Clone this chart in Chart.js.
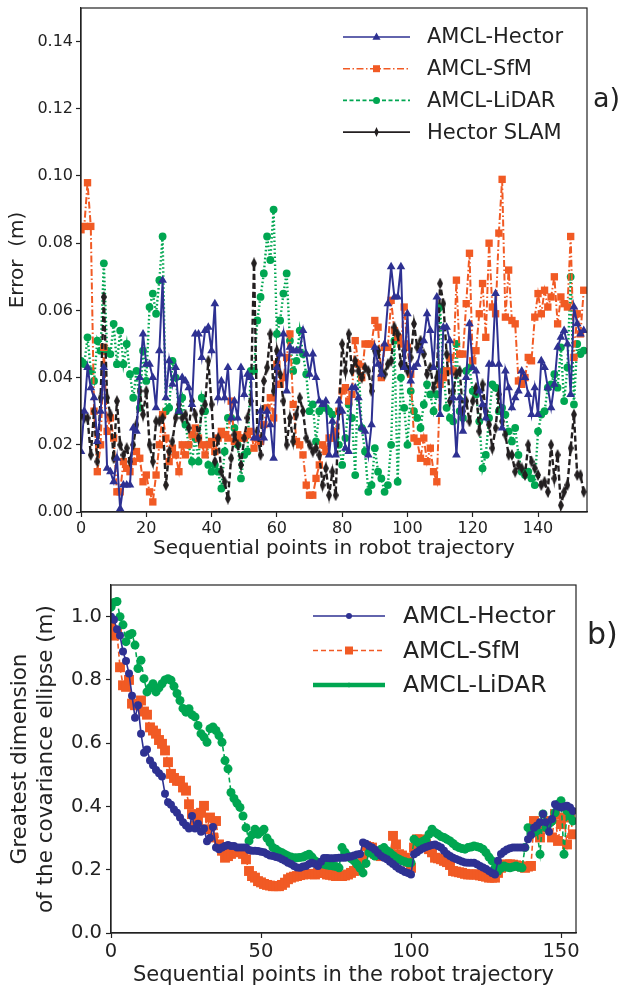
<!DOCTYPE html>
<html>
<head>
<meta charset="utf-8">
<title>Localization error and covariance</title>
<script src="https://cdn.jsdelivr.net/npm/chart.js@4.4.0/dist/chart.umd.min.js"></script>
<style>
  html, body { margin: 0; padding: 0; background: #fff; }
  #wrap { position: relative; width: 622px; height: 994px; }
  #errChart { position: absolute; left: 0; top: 0; }
  #covChart { position: absolute; left: 0; top: 570px; }
</style>
</head>
<body>
<div id="wrap">
  <canvas id="errChart" width="622" height="570"></canvas>
  <canvas id="covChart" width="622" height="424"></canvas>
</div>
<script>
// ---- a) error per sequential point (m) ----
const errHector = [
  0.018, 0.030, 0.043, 0.037, 0.034, 0.021, 0.030, 0.043, 0.013, 0.012,
  0.009, 0.016, 0.001, 0.008, 0.008, 0.008, 0.025, 0.024, 0.040, 0.053,
  0.044, 0.044, 0.040, 0.031, 0.048, 0.069, 0.034, 0.045, 0.038, 0.043,
  0.030, 0.040, 0.039, 0.037, 0.032, 0.053, 0.053, 0.046, 0.054, 0.055,
  0.048, 0.062, 0.034, 0.039, 0.034, 0.043, 0.028, 0.033, 0.028, 0.043,
  0.035, 0.041, 0.040, 0.022, 0.022, 0.030, 0.022, 0.030, 0.026, 0.016,
  0.043, 0.047, 0.053, 0.036, 0.049, 0.048, 0.048, 0.048, 0.054, 0.047,
  0.041, 0.047, 0.040, 0.033, 0.032, 0.033, 0.017, 0.027, 0.017, 0.033,
  0.030, 0.019, 0.018, 0.037, 0.037, 0.034, 0.025, 0.024, 0.017, 0.026,
  0.049, 0.044, 0.041, 0.050, 0.062, 0.073, 0.064, 0.064, 0.073, 0.043,
  0.059, 0.039, 0.043, 0.044, 0.048, 0.051, 0.059, 0.054, 0.043, 0.064,
  0.029, 0.055, 0.055, 0.051, 0.034, 0.017, 0.034, 0.024, 0.040, 0.056,
  0.043, 0.042, 0.036, 0.032, 0.028, 0.044, 0.044, 0.065, 0.044, 0.025,
  0.042, 0.037, 0.031, 0.034, 0.036, 0.042, 0.040, 0.035, 0.029, 0.037,
  0.029, 0.045, 0.043, 0.037, 0.031, 0.038, 0.049, 0.052, 0.054, 0.050,
  0.035, 0.061, 0.056, 0.053, 0.054
];
const errSfm = [
  0.084, 0.085, 0.098, 0.085, 0.030, 0.012, 0.020, 0.049, 0.024, 0.028,
  0.022, 0.006, 0.006, 0.015, 0.013, 0.012, 0.015, 0.018, 0.016, 0.009,
  0.011, 0.006, 0.003, 0.011, 0.020, 0.029, 0.022, 0.015, 0.019, 0.017,
  0.012, 0.020, 0.017, 0.020, 0.023, 0.025, 0.022, 0.020, 0.017, 0.020,
  0.021, 0.018, 0.022, 0.024, 0.023, 0.022, 0.033, 0.021, 0.023, 0.022,
  0.022, 0.023, 0.024, 0.019, 0.022, 0.021, 0.026, 0.031, 0.034, 0.028,
  0.044, 0.038, 0.040, 0.046, 0.053, 0.032, 0.021, 0.020, 0.017, 0.008,
  0.005, 0.005, 0.010, 0.014, 0.020, 0.018, 0.022, 0.022, 0.024, 0.030,
  0.036, 0.037, 0.033, 0.035, 0.051, 0.044, 0.040, 0.050, 0.050, 0.050,
  0.057, 0.055, 0.040, 0.049, 0.049, 0.063, 0.054, 0.052, 0.050, 0.061,
  0.049, 0.041, 0.022, 0.021, 0.016, 0.022, 0.015, 0.019, 0.012, 0.009,
  0.038, 0.040, 0.042, 0.046, 0.042, 0.069, 0.047, 0.047, 0.062, 0.077,
  0.045, 0.048, 0.059, 0.068, 0.052, 0.080, 0.061, 0.059, 0.083, 0.099,
  0.058, 0.072, 0.057, 0.056, 0.039, 0.038, 0.040, 0.046, 0.045, 0.058,
  0.065, 0.059, 0.066, 0.061, 0.064, 0.070, 0.056, 0.064, 0.062, 0.061,
  0.082, 0.046, 0.059, 0.053, 0.066
];
const errLidar = [
  0.045, 0.044, 0.052, 0.042, 0.039, 0.051, 0.048, 0.074, 0.048, 0.047,
  0.056, 0.044, 0.054, 0.044, 0.050, 0.041, 0.034, 0.042, 0.031, 0.048,
  0.039, 0.061, 0.065, 0.059, 0.069, 0.082, 0.030, 0.031, 0.045, 0.040,
  0.030, 0.034, 0.026, 0.020, 0.015, 0.022, 0.015, 0.034, 0.030, 0.014,
  0.012, 0.014, 0.012, 0.007, 0.018, 0.028, 0.028, 0.025, 0.020, 0.010,
  0.017, 0.018, 0.042, 0.042, 0.057, 0.064, 0.071, 0.082, 0.075, 0.090,
  0.053, 0.057, 0.065, 0.071, 0.051, 0.042, 0.045, 0.054, 0.047, 0.041,
  0.030, 0.032, 0.021, 0.030, 0.031, 0.031, 0.030, 0.029, 0.022, 0.020,
  0.014, 0.022, 0.032, 0.028, 0.011, 0.044, 0.025, 0.018, 0.006, 0.008,
  0.019, 0.012, 0.010, 0.006, 0.008, 0.020, 0.051, 0.009, 0.040, 0.031,
  0.020, 0.036, 0.030, 0.028, 0.025, 0.032, 0.038, 0.035, 0.030, 0.035,
  0.061, 0.042, 0.031, 0.028, 0.027, 0.050, 0.030, 0.028, 0.042, 0.043,
  0.036, 0.035, 0.027, 0.013, 0.017, 0.028, 0.038, 0.037, 0.030, 0.031,
  0.029, 0.024, 0.021, 0.025, 0.017, 0.012, 0.011, 0.012, 0.010, 0.008,
  0.024, 0.029, 0.030, 0.037, 0.038, 0.041, 0.037, 0.049, 0.033, 0.043,
  0.070, 0.032, 0.050, 0.047, 0.048
];
const errSlam = [
  0.029, 0.028, 0.028, 0.017, 0.030, 0.015, 0.034, 0.064, 0.034, 0.029,
  0.016, 0.033, 0.020, 0.017, 0.019, 0.015, 0.020, 0.026, 0.036, 0.029,
  0.036, 0.020, 0.015, 0.027, 0.027, 0.028, 0.008, 0.018, 0.021, 0.028,
  0.032, 0.028, 0.029, 0.025, 0.033, 0.029, 0.022, 0.030, 0.032, 0.045,
  0.032, 0.015, 0.022, 0.012, 0.009, 0.004, 0.016, 0.023, 0.020, 0.014,
  0.022, 0.028, 0.033, 0.074, 0.024, 0.017, 0.039, 0.043, 0.053, 0.036,
  0.048, 0.041, 0.033, 0.020, 0.028, 0.021, 0.029, 0.034, 0.030, 0.022,
  0.020, 0.018, 0.019, 0.017, 0.008, 0.013, 0.005, 0.012, 0.005, 0.030,
  0.050, 0.042, 0.053, 0.042, 0.045, 0.042, 0.040, 0.043, 0.042, 0.036,
  0.048, 0.048, 0.042, 0.041, 0.044, 0.045, 0.055, 0.053, 0.044, 0.048,
  0.042, 0.046, 0.056, 0.049, 0.051, 0.047, 0.041, 0.043, 0.037, 0.040,
  0.068, 0.062, 0.047, 0.033, 0.036, 0.041, 0.042, 0.030, 0.033, 0.027,
  0.033, 0.037, 0.024, 0.038, 0.030, 0.026, 0.019, 0.025, 0.035, 0.027,
  0.023, 0.017, 0.017, 0.012, 0.014, 0.013, 0.011, 0.020, 0.015, 0.013,
  0.011, 0.008, 0.009, 0.006, 0.020, 0.010, 0.017, 0.002, 0.006, 0.008,
  0.019, 0.029, 0.011, 0.011, 0.006
];
const errXTicks = [0, 20, 40, 60, 80, 100, 120, 140];
const errYTicks = [0, 0.02, 0.04, 0.06, 0.08, 0.10, 0.12, 0.14];

// ---- b) greatest dimension of the covariance ellipse (m) ----
const covHector = [
  1.00, 0.99, 0.96, 0.94, 0.89, 0.86, 0.82, 0.75, 0.68, 0.72,
  0.63, 0.57, 0.58, 0.545, 0.53, 0.515, 0.505, 0.495, 0.44, 0.413,
  0.405, 0.39, 0.38, 0.365, 0.35, 0.34, 0.33, 0.37, 0.33, 0.345,
  0.32, 0.33, 0.29, 0.30, 0.335, 0.27, 0.265, 0.27, 0.275, 0.278,
  0.275, 0.275, 0.27, 0.27, 0.27, 0.27, 0.262, 0.26, 0.26, 0.259,
  0.257, 0.255, 0.25, 0.245, 0.243, 0.24, 0.238, 0.233, 0.228, 0.222,
  0.218, 0.212, 0.207, 0.206, 0.21, 0.212, 0.218, 0.222, 0.218, 0.212,
  0.225, 0.237, 0.237, 0.236, 0.236, 0.237, 0.238, 0.238, 0.238, 0.24,
  0.242, 0.245, 0.248, 0.25, 0.286, 0.282, 0.275, 0.27, 0.263, 0.253,
  0.243, 0.238, 0.233, 0.225, 0.218, 0.21, 0.203, 0.198, 0.193, 0.19,
  0.185, 0.249, 0.255, 0.262, 0.268, 0.272, 0.275, 0.278, 0.28, 0.275,
  0.27, 0.26, 0.25, 0.243, 0.238, 0.234, 0.23, 0.226, 0.223, 0.222,
  0.222, 0.222, 0.217, 0.212, 0.207, 0.202, 0.196, 0.19, 0.185, 0.228,
  0.25, 0.258, 0.264, 0.268, 0.27, 0.27, 0.27, 0.27, 0.27, 0.296,
  0.31, 0.333, 0.34, 0.35, 0.376, 0.35, 0.32, 0.36, 0.407, 0.40,
  0.397, 0.40, 0.402, 0.397, 0.386
];
const covSfm = [
  0.97, 0.94, 0.947, 0.84, 0.783, 0.778, 0.80, 0.725, 0.72, 0.72,
  0.735, 0.70, 0.69, 0.65, 0.64, 0.63, 0.61, 0.598, 0.577, 0.54,
  0.503, 0.49, 0.481, 0.481, 0.46, 0.45, 0.407, 0.376, 0.34, 0.354,
  0.38, 0.402, 0.328, 0.365, 0.302, 0.354, 0.28, 0.26, 0.238, 0.243,
  0.25, 0.255, 0.262, 0.265, 0.25, 0.233, 0.196, 0.18, 0.175, 0.164,
  0.16, 0.155, 0.152, 0.15, 0.148, 0.148, 0.148, 0.152, 0.159, 0.17,
  0.175, 0.178, 0.18, 0.183, 0.185, 0.186, 0.187, 0.186, 0.185, 0.19,
  0.196, 0.19, 0.185, 0.184, 0.182, 0.18, 0.18, 0.18, 0.182, 0.185,
  0.19, 0.196, 0.205, 0.217, 0.24, 0.275, 0.272, 0.27, 0.25, 0.246,
  0.243, 0.246, 0.248, 0.249, 0.307, 0.28, 0.249, 0.245, 0.238, 0.225,
  0.206, 0.27, 0.296, 0.296, 0.29, 0.28, 0.265, 0.255, 0.238, 0.236,
  0.233, 0.228, 0.224, 0.215, 0.196, 0.194, 0.192, 0.19, 0.187, 0.185,
  0.185, 0.185, 0.185, 0.182, 0.18, 0.178, 0.175, 0.175, 0.175, 0.19,
  0.206, 0.215, 0.217, 0.217, 0.216, 0.214, 0.212, 0.21, 0.206, 0.21,
  0.212, 0.354, 0.32, 0.302, 0.333, 0.345, 0.354, 0.302, 0.376, 0.291,
  0.344, 0.365, 0.28, 0.376, 0.312
];
const covLidar = [
  1.03, 1.045, 1.048, 1.00, 0.974, 0.921, 0.942, 0.947, 0.91, 0.836,
  0.862, 0.804, 0.762, 0.775, 0.788, 0.762, 0.775, 0.788, 0.80, 0.804,
  0.799, 0.78, 0.757, 0.735, 0.71, 0.698, 0.709, 0.69, 0.683, 0.656,
  0.63, 0.619, 0.603, 0.646, 0.651, 0.64, 0.624, 0.603, 0.545, 0.519,
  0.444, 0.425, 0.41, 0.397, 0.37, 0.333, 0.291, 0.31, 0.328, 0.312,
  0.32, 0.328, 0.30, 0.286, 0.27, 0.265, 0.258, 0.254, 0.248, 0.243,
  0.24, 0.238, 0.238, 0.239, 0.24, 0.245, 0.249, 0.24, 0.228, 0.224,
  0.22, 0.217, 0.215, 0.213, 0.212, 0.21, 0.206, 0.27, 0.255, 0.243,
  0.235, 0.228, 0.217, 0.205, 0.19, 0.22, 0.254, 0.25, 0.243, 0.255,
  0.265, 0.27, 0.26, 0.254, 0.245, 0.238, 0.233, 0.228, 0.225, 0.222,
  0.222, 0.296, 0.288, 0.28, 0.29, 0.296, 0.312, 0.328, 0.318, 0.312,
  0.305, 0.302, 0.296, 0.291, 0.283, 0.275, 0.27, 0.267, 0.265, 0.27,
  0.272, 0.275, 0.273, 0.27, 0.265, 0.254, 0.24, 0.228, 0.206, 0.196,
  0.205, 0.212, 0.208, 0.206, 0.209, 0.212, 0.208, 0.206, 0.27, 0.333,
  0.312, 0.318, 0.323, 0.249, 0.376, 0.333, 0.345, 0.354, 0.38, 0.407,
  0.418, 0.249, 0.386, 0.37, 0.354
];
const covXTicks = [0, 50, 100, 150];
const covYTicks = [0, 0.2, 0.4, 0.6, 0.8, 1.0];

const BLUE = '#2e3192';
const RED = '#f15a24';
const GREEN = '#00a651';
const BLACK = '#231f20';
const INK = '#222222';
const FONT = "'DejaVu Sans', 'Liberation Sans', sans-serif";

Chart.defaults.font.family = FONT;
Chart.defaults.color = INK;

// point index -> {x, y}
function toPoints(values) {
    return values.map((v, i) => ({ x: i, y: v }));
}

// thin diamond marker (matplotlib 'd')
function thinDiamond(color, w, h) {
    const c = document.createElement('canvas');
    c.width = w;
    c.height = h;
    const g = c.getContext('2d');
    g.fillStyle = color;
    g.beginPath();
    g.moveTo(w / 2, 0);
    g.lineTo(w, h / 2);
    g.lineTo(w / 2, h);
    g.lineTo(0, h / 2);
    g.closePath();
    g.fill();
    return c;
}

function drawMarker(ctx, shape, x, y, s, color) {
    ctx.save();
    ctx.setLineDash([]);
    ctx.fillStyle = color;
    ctx.beginPath();
    if (shape === 'triangle') {
        ctx.moveTo(x, y - s);
        ctx.lineTo(x + s * 0.9, y + s * 0.6);
        ctx.lineTo(x - s * 0.9, y + s * 0.6);
    } else if (shape === 'rect') {
        ctx.rect(x - s, y - s, s * 2, s * 2);
    } else if (shape === 'circle') {
        ctx.arc(x, y, s, 0, Math.PI * 2);
    } else if (shape === 'diamond') {
        ctx.moveTo(x, y - s);
        ctx.lineTo(x + s * 0.45, y);
        ctx.lineTo(x, y + s);
        ctx.lineTo(x - s * 0.45, y);
    }
    ctx.closePath();
    ctx.fill();
    ctx.restore();
}

// frame on all four sides, in-axes legend and the panel letter
const mplDecor = {
    id: 'mplDecor',
    afterDraw(chart, args, opts) {
        const ctx = chart.ctx;
        const a = chart.chartArea;
        ctx.save();
        ctx.strokeStyle = INK;
        ctx.lineWidth = 1.2;
        ctx.strokeRect(a.left, a.top, a.right - a.left, a.bottom - a.top);

        ctx.font = opts.fontSize + 'px ' + FONT;
        ctx.textBaseline = 'middle';
        ctx.textAlign = 'left';
        opts.entries.forEach((e, k) => {
            const y = opts.rowY + k * opts.rowGap;
            ctx.save();
            ctx.strokeStyle = e.color;
            ctx.lineWidth = e.width;
            ctx.setLineDash(e.dash);
            ctx.beginPath();
            ctx.moveTo(opts.lineX1, y);
            ctx.lineTo(opts.lineX2, y);
            ctx.stroke();
            ctx.restore();
            drawMarker(ctx, e.marker, (opts.lineX1 + opts.lineX2) / 2, y, e.size, e.color);
            ctx.fillStyle = INK;
            ctx.fillText(e.label, opts.textX, y + 1);
        });

        ctx.font = opts.tagSize + 'px ' + FONT;
        ctx.fillStyle = INK;
        ctx.fillText(opts.tag, opts.tagX, opts.tagY);
        ctx.restore();
    }
};

function fixedTicks(list) {
    return function (scale) {
        scale.ticks = list.map(v => ({ value: v }));
    };
}

function sizeAxis(prop, px) {
    return function (scale) {
        scale[prop] = px;
        scale.paddingTop = 0;
        scale.paddingBottom = 0;
        scale.paddingLeft = 0;
        scale.paddingRight = 0;
    };
}

function axisGrid() {
    return {
        display: true,
        drawOnChartArea: false,
        drawTicks: true,
        tickLength: 5,
        tickColor: INK,
        tickWidth: 1.2
    };
}

// ---------- panel a) ----------
new Chart(document.getElementById('errChart'), {
    type: 'line',
    data: {
        datasets: [
            {
                label: 'AMCL-Hector',
                data: toPoints(errHector),
                borderColor: BLUE,
                backgroundColor: BLUE,
                borderWidth: 2,
                pointStyle: 'triangle',
                pointRadius: 5,
                pointBorderWidth: 0,
                order: 0
            },
            {
                label: 'AMCL-SfM',
                data: toPoints(errSfm),
                borderColor: RED,
                backgroundColor: RED,
                borderWidth: 2,
                borderDash: [7, 2.5, 1.5, 2.5],
                pointStyle: 'rect',
                pointRadius: 5.2,
                pointBorderWidth: 0,
                order: 2
            },
            {
                label: 'AMCL-LiDAR',
                data: toPoints(errLidar),
                borderColor: GREEN,
                backgroundColor: GREEN,
                borderWidth: 2.4,
                borderDash: [1.6, 2.4],
                pointStyle: 'circle',
                pointRadius: 3.9,
                pointBorderWidth: 0,
                order: 3
            },
            {
                label: 'Hector SLAM',
                data: toPoints(errSlam),
                borderColor: BLACK,
                backgroundColor: BLACK,
                borderWidth: 2.4,
                borderDash: [6, 3],
                pointStyle: thinDiamond(BLACK, 6, 12),
                pointRadius: 4,
                order: 1
            }
        ]
    },
    options: {
        responsive: false,
        animation: false,
        devicePixelRatio: 1,
        events: [],
        layout: { padding: { top: 8, right: 35, left: 0, bottom: 0 } },
        scales: {
            x: {
                type: 'linear',
                min: 0,
                max: 155,
                afterFit: sizeAxis('height', 58),
                afterBuildTicks: fixedTicks(errXTicks),
                ticks: { font: { size: 16 }, color: INK, padding: 2, maxRotation: 0, autoSkip: false },
                grid: axisGrid(),
                border: { display: true, color: INK, width: 1.2 },
                title: {
                    display: true,
                    text: 'Sequential points in robot trajectory',
                    font: { size: 20 },
                    color: INK,
                    padding: { top: 0, bottom: 9 }
                }
            },
            y: {
                type: 'linear',
                min: 0,
                max: 0.15,
                afterFit: sizeAxis('width', 81),
                afterBuildTicks: fixedTicks(errYTicks),
                ticks: {
                    font: { size: 16 },
                    color: INK,
                    padding: 3,
                    callback: v => v.toFixed(2)
                },
                grid: axisGrid(),
                border: { display: true, color: INK, width: 1.2 },
                title: {
                    display: true,
                    text: 'Error  (m)',
                    font: { size: 20 },
                    color: INK,
                    padding: { top: 6, bottom: 0 }
                }
            }
        },
        plugins: {
            legend: { display: false },
            tooltip: { enabled: false },
            mplDecor: {
                fontSize: 21,
                rowY: 37,
                rowGap: 31.7,
                lineX1: 343,
                lineX2: 410,
                textX: 427,
                tag: 'a)',
                tagSize: 27,
                tagX: 593,
                tagY: 100,
                entries: [
                    { label: 'AMCL-Hector', color: BLUE, width: 1.6, dash: [], marker: 'triangle', size: 4.5 },
                    { label: 'AMCL-SfM', color: RED, width: 1.6, dash: [7, 2.5, 1.5, 2.5], marker: 'rect', size: 3.5 },
                    { label: 'AMCL-LiDAR', color: GREEN, width: 1.6, dash: [4, 2.5], marker: 'circle', size: 3.5 },
                    { label: 'Hector SLAM', color: BLACK, width: 1.6, dash: [], marker: 'diamond', size: 5 }
                ]
            }
        }
    },
    plugins: [mplDecor]
});

// ---------- panel b) ----------
new Chart(document.getElementById('covChart'), {
    type: 'line',
    data: {
        datasets: [
            {
                label: 'AMCL-Hector',
                data: toPoints(covHector),
                borderColor: BLUE,
                backgroundColor: BLUE,
                borderWidth: 1.6,
                pointStyle: 'circle',
                pointRadius: 4,
                pointBorderWidth: 0,
                order: 0
            },
            {
                label: 'AMCL-SfM',
                data: toPoints(covSfm),
                borderColor: RED,
                backgroundColor: RED,
                borderWidth: 1.6,
                borderDash: [5, 3],
                pointStyle: 'rect',
                pointRadius: 7,
                pointBorderWidth: 0,
                order: 2
            },
            {
                label: 'AMCL-LiDAR',
                data: toPoints(covLidar),
                borderColor: GREEN,
                backgroundColor: GREEN,
                borderWidth: 1.6,
                borderDash: [5, 3],
                pointStyle: 'circle',
                pointRadius: 4.5,
                pointBorderWidth: 0,
                order: 1
            }
        ]
    },
    options: {
        responsive: false,
        animation: false,
        devicePixelRatio: 1,
        events: [],
        layout: { padding: { top: 15, right: 46, left: 0, bottom: 0 } },
        scales: {
            x: {
                type: 'linear',
                min: 0,
                max: 155,
                afterFit: sizeAxis('height', 61),
                afterBuildTicks: fixedTicks(covXTicks),
                ticks: { font: { size: 19.5 }, color: INK, padding: 2, maxRotation: 0, autoSkip: false },
                grid: axisGrid(),
                border: { display: true, color: INK, width: 1.2 },
                title: {
                    display: true,
                    text: 'Sequential points in the robot trajectory',
                    font: { size: 21 },
                    color: INK,
                    padding: { top: 0, bottom: 6 }
                }
            },
            y: {
                type: 'linear',
                min: 0,
                max: 1.1,
                afterFit: sizeAxis('width', 111),
                afterBuildTicks: fixedTicks(covYTicks),
                ticks: {
                    font: { size: 19.5 },
                    color: INK,
                    padding: 4,
                    callback: v => v.toFixed(1)
                },
                grid: axisGrid(),
                border: { display: true, color: INK, width: 1.2 },
                title: {
                    display: true,
                    text: ['Greatest dimension', 'of the covariance ellipse (m)'],
                    font: { size: 21.5, lineHeight: 1.22 },
                    color: INK,
                    padding: { top: 7, bottom: 0 }
                }
            }
        },
        plugins: {
            legend: { display: false },
            tooltip: { enabled: false },
            mplDecor: {
                fontSize: 23.5,
                rowY: 46,
                rowGap: 34.5,
                lineX1: 313,
                lineX2: 385,
                textX: 403,
                tag: 'b)',
                tagSize: 30,
                tagX: 587,
                tagY: 66,
                entries: [
                    { label: 'AMCL-Hector', color: BLUE, width: 1.6, dash: [], marker: 'circle', size: 3 },
                    { label: 'AMCL-SfM', color: RED, width: 1.6, dash: [5, 3], marker: 'rect', size: 4 },
                    { label: 'AMCL-LiDAR', color: GREEN, width: 4.5, dash: [], marker: 'diamond', size: 3 }
                ]
            }
        }
    },
    plugins: [mplDecor]
});
</script>
</body>
</html>
